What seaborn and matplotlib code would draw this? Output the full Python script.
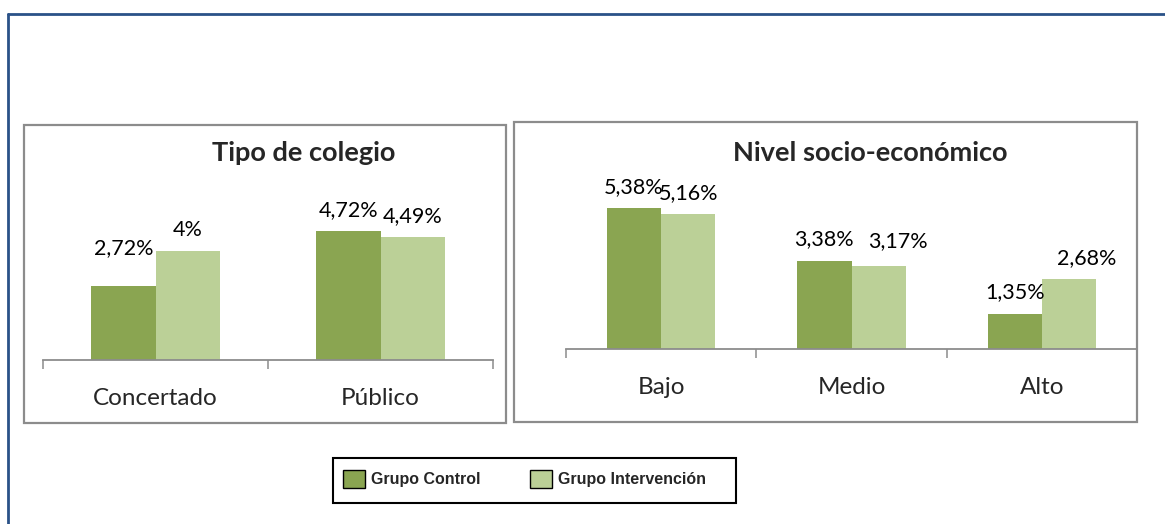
import numpy as np
import pandas as pd
import seaborn as sns
import matplotlib.pyplot as plt
from matplotlib.patches import Rectangle, Patch
from matplotlib.lines import Line2D

# values
grupos = ["Grupo Control", "Grupo Intervención"]
tipo_colegio = ["Concertado", "Público"]
tipo_control = [2.72, 4.72]
tipo_intervencion = [4.00, 4.49]
nivel_se = ["Bajo", "Medio", "Alto"]
nivel_control = [5.38, 3.38, 1.35]
nivel_intervencion = [5.16, 3.17, 2.68]

colores = ["#8aa551", "#bbd097"]
gris = "#8c8c8c"
W, H = 1165, 524

# small label nudges (points) to mimic the hand-placed Excel labels
ajustes = {("tipo", 0, 0): (0, 12), ("nivel", 1, 1): (14, 3), ("nivel", 1, 2): (13, 0)}


def fx(px):
    return px / W


def fy(py):
    return 1 - py / H


def long_df(cats, control, interv):
    return pd.DataFrame({
        "categoria": cats * 2,
        "grupo": [grupos[0]] * len(cats) + [grupos[1]] * len(cats),
        "valor": control + interv,
    })


def etiqueta(v):
    return f"{v:g}".replace(".", ",") + "%"


sns.set_style("white")
plt.rcParams["font.family"] = ["Lato", "DejaVu Sans"]

fig = plt.figure(figsize=(W / 100, H / 100), dpi=100)


def panel(nombre, cats, control, interv, caja, eje, ymax, titulo, tx):
    # gray frame around the chart
    x0, y0, x1, y1 = caja
    fig.add_artist(Rectangle((fx(x0), fy(y1)), (x1 - x0) / W, (y1 - y0) / H,
                             transform=fig.transFigure, fill=False, ec=gris, lw=1.6))
    ax0, ay_base, ax1, ay_top = eje
    ax = fig.add_axes([fx(ax0), fy(ay_base), (ax1 - ax0) / W, (ay_base - ay_top) / H])
    ax.set_facecolor("none")
    df = long_df(cats, control, interv)
    sns.barplot(data=df, x="categoria", y="valor", hue="grupo", order=cats,
                hue_order=grupos, palette=colores, width=0.57, saturation=1,
                linewidth=0, errorbar=None, legend=False, ax=ax)
    for g, (cont, vals) in enumerate(zip(ax.containers, [control, interv])):
        for i, (bar, v) in enumerate(zip(cont, vals)):
            dx, dy = ajustes.get((nombre, g, i), (0, 0))
            ax.annotate(etiqueta(v), (bar.get_x() + bar.get_width() / 2, bar.get_height()),
                        xytext=(dx, 8 + dy), textcoords="offset points",
                        ha="center", va="bottom", fontsize=15.5, color="black")
    ax.set_xlim(-0.5, len(cats) - 0.5)
    ax.set_ylim(0, ymax)
    ax.set_yticks([])
    ax.set_xlabel("")
    ax.set_ylabel("")
    for s in ["top", "left", "right"]:
        ax.spines[s].set_visible(False)
    ax.spines["bottom"].set_color(gris)
    ax.spines["bottom"].set_linewidth(1.3)
    ax.set_xticks(np.arange(len(cats) + 1) - 0.5, minor=True)
    ax.tick_params(axis="x", which="major", length=0, pad=20, labelsize=17.5)
    ax.tick_params(axis="x", which="minor", length=6.5, width=1.1, color=gris,
                   direction="out", bottom=True)
    fig.text(fx(tx), fy(153), titulo, ha="center", va="center",
             fontsize=19.5, fontweight="bold")
    return ax


panel("tipo", tipo_colegio, tipo_control, tipo_intervencion,
      (24, 125, 506, 423), (43, 360, 493, 160), 200 / 27.3, "Tipo de colegio", 304)
panel("nivel", nivel_se, nivel_control, nivel_intervencion,
      (514, 122, 1137, 422), (566, 349, 1137, 160), 189 / 26.15, "Nivel socio-económico", 870)

# outer blue frame (top and left edges visible)
azul = "#2a5288"
fig.add_artist(Line2D([fx(8), 1.0], [fy(14), fy(14)], transform=fig.transFigure, color=azul, lw=2))
fig.add_artist(Line2D([fx(8), fx(8)], [fy(14), 0.0], transform=fig.transFigure, color=azul, lw=2))

# legend box
fig.add_artist(Rectangle((fx(333), fy(503)), (736 - 333) / W, (503 - 458) / H,
                         transform=fig.transFigure, fill=False, ec="black", lw=1.5))
handles = [Patch(facecolor=c, edgecolor="black", lw=1) for c in colores]
fig.legend(handles, grupos, loc="center left", bbox_to_anchor=(fx(343), fy(479)),
           ncol=2, frameon=False, borderpad=0, borderaxespad=0,
           handlelength=1.35, handleheight=1.3, handletextpad=0.4, columnspacing=3.1,
           prop={"family": "Liberation Sans", "weight": "bold", "size": 11.5})

fig.savefig("out.png", dpi=100)
